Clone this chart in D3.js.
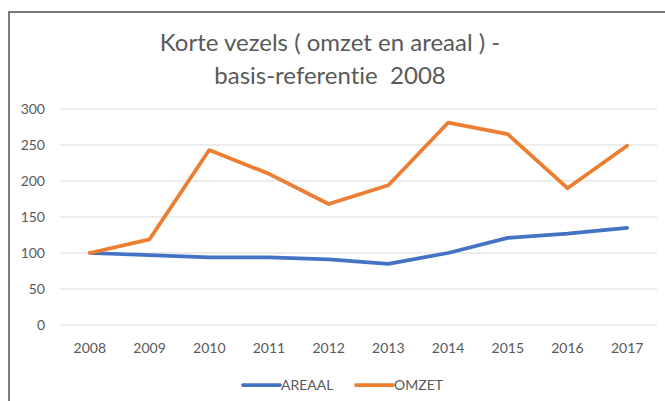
<!DOCTYPE html>
<html>
<head>
<meta charset="utf-8">
<script src="https://cdn.jsdelivr.net/npm/d3@7"></script>
<style>
  body { margin: 0; background: #fff; }
  svg { display: block; font-variant-ligatures: none; }
</style>
</head>
<body>
<div id="chart"></div>
<script>
const years = ['2008', '2009', '2010', '2011', '2012', '2013', '2014', '2015', '2016', '2017'];
const areaal = [100, 97, 94, 94, 91, 85, 100, 121, 127, 135];
const omzet = [100, 119, 243, 210, 168, 194, 281, 265, 190, 249];
const yTicks = [0, 50, 100, 150, 200, 250, 300];
const titleLines = ['Korte vezels ( omzet en areaal ) -', 'basis-referentie  2008'];

const width = 665;
const height = 401;
const margin = { top: 109, right: 8, bottom: 76, left: 60 };
const font = 'Lato, "Open Sans", sans-serif';
const textColor = '#595959';

const svg = d3.select('#chart')
  .append('svg')
  .attr('width', width)
  .attr('height', height);

// chart frame (only top and left edges are visible in the crop)
svg.append('path')
  .attr('d', `M9,${height} V12 H${width}`)
  .attr('fill', 'none')
  .attr('stroke', '#7a7a7a')
  .attr('stroke-width', 2);

const x = d3.scaleBand()
  .domain(years)
  .range([margin.left, width - margin.right]);

const y = d3.scaleLinear()
  .domain([0, 300])
  .range([height - margin.bottom, margin.top]);

// gridlines
svg.append('g')
  .selectAll('line')
  .data(yTicks)
  .join('line')
    .attr('x1', margin.left)
    .attr('x2', width - margin.right)
    .attr('y1', d => y(d))
    .attr('y2', d => y(d))
    .attr('stroke', '#d9d9d9')
    .attr('stroke-width', 1);

function yAxis(g) {
  g.attr('transform', `translate(${margin.left - 15}, 0)`)
    .call(d3.axisLeft(y).tickValues(yTicks).tickSize(0).tickPadding(0))
    .call(g => g.select('.domain').remove())
    .attr('font-size', '14px')
    .attr('font-family', font)
    .selectAll('text').attr('fill', textColor);
}

function xAxis(g) {
  g.attr('transform', `translate(0,${height - margin.bottom})`)
    .call(d3.axisBottom(x).tickSize(0).tickPadding(18))
    .call(g => g.select('.domain').remove())
    .attr('font-size', '14px')
    .attr('font-family', font)
    .selectAll('text').attr('fill', textColor);
}

svg.append('g').call(yAxis);
svg.append('g').call(xAxis);

const line = d3.line()
  .x((d, i) => x(years[i]) + x.bandwidth() / 2)
  .y(d => y(d));

const series = [
  { name: 'AREAAL', values: areaal, color: '#4472c4' },
  { name: 'OMZET', values: omzet, color: '#ed7d31' }
];

svg.append('g')
  .selectAll('path')
  .data(series)
  .join('path')
    .attr('d', d => line(d.values))
    .attr('fill', 'none')
    .attr('stroke', d => d.color)
    .attr('stroke-width', 3.75)
    .attr('stroke-linejoin', 'round')
    .attr('stroke-linecap', 'round');

// title
svg.append('g')
  .selectAll('text')
  .data(titleLines)
  .join('text')
    .attr('x', 330)
    .attr('y', (d, i) => 51 + i * 33)
    .attr('text-anchor', 'middle')
    .attr('font-family', font)
    .attr('font-size', '24px')
    .attr('fill', textColor)
    .style('white-space', 'pre')
    .text(d => d);

// legend
const legendX = [243, 356];
const legend = svg.append('g')
  .selectAll('g')
  .data(series)
  .join('g')
    .attr('transform', (d, i) => `translate(${legendX[i]}, 385)`);

legend.append('line')
  .attr('x1', 0).attr('x2', 37)
  .attr('stroke', d => d.color)
  .attr('stroke-width', 3.75)
  .attr('stroke-linecap', 'round');

legend.append('text')
  .attr('x', 38)
  .attr('dy', '0.35em')
  .attr('font-family', font)
  .attr('font-size', '14px')
  .attr('fill', textColor)
  .text(d => d.name);
</script>
</body>
</html>
